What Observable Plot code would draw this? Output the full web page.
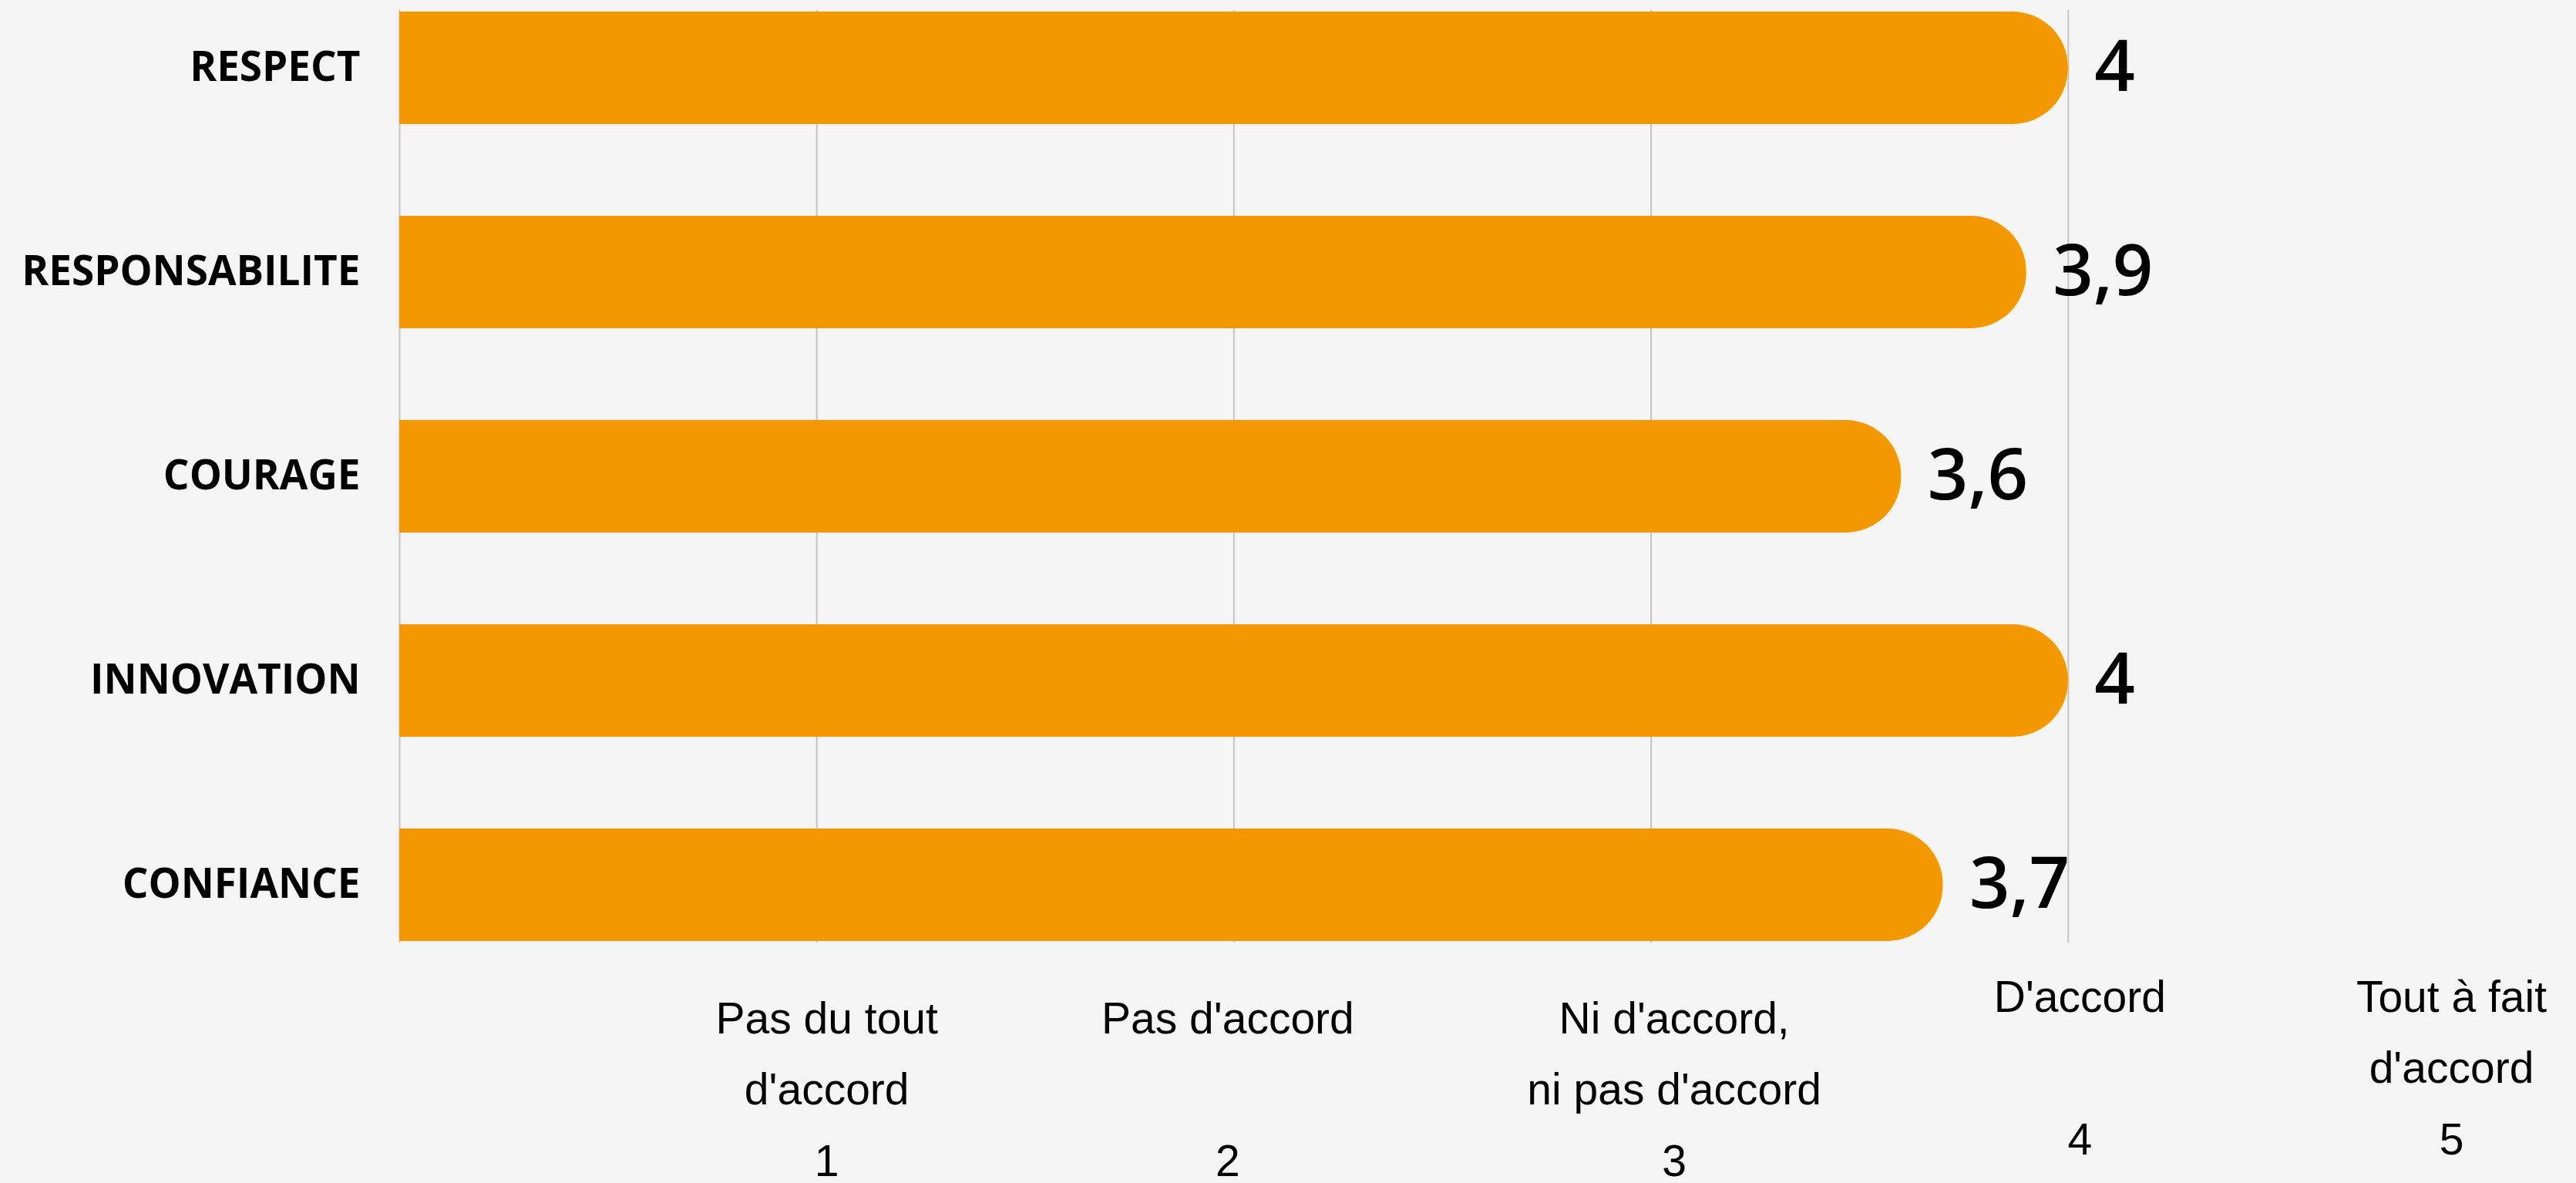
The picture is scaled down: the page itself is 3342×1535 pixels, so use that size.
<!DOCTYPE html>
<html>
<head>
<meta charset="utf-8">
<script src="https://cdn.jsdelivr.net/npm/d3@7"></script>
<script src="https://cdn.jsdelivr.net/npm/@observablehq/plot@0.6"></script>
<style>
  html, body { margin: 0; padding: 0; background: #f5f5f5; }
  #chart svg { display: block; }
  [aria-label="y-axis tick label"] text { font-weight: bold; }
</style>
</head>
<body>
<div id="chart"></div>
<script>
const categories = ["RESPECT", "RESPONSABILITE", "COURAGE", "INNOVATION", "CONFIANCE"];
const values = [4, 3.9, 3.6, 4, 3.7];
const scaleTicks = [1, 2, 3, 4, 5];
const scaleLabels = [
  "Pas du tout\nd'accord\n1",
  "Pas d'accord\n\n2",
  "Ni d'accord,\nni pas d'accord\n3",
  "D'accord\n\n4",
  "Tout à fait\nd'accord\n5"
];
const gridTicks = [0, 1, 2, 3, 4];

const data = categories.map((c, i) => ({cat: c, value: values[i]}));
const scale = scaleTicks.map((t, i) => ({t, label: scaleLabels[i], i}));

// style: per-label nudges of the bottom scale labels (pixels)
const labelDx = [13, -8, 30, 15, -44];
const labelDy = [52, 52, 52, 24, 24];

const orange = "#f39800";
const grid = "#c4c4c4";

const chart = Plot.plot({
  width: 3342,
  height: 1535,
  marginTop: 13,
  marginBottom: 312,
  marginLeft: 518,
  marginRight: 118,
  style: {background: "#f5f5f5", fontFamily: "'Liberation Sans', Arial, sans-serif", overflow: "visible"},
  x: {domain: [0, 5], axis: null},
  y: {domain: categories, paddingInner: 0.45, paddingOuter: 0, axis: null},
  marks: [
    Plot.ruleX(gridTicks, {x: d => d, stroke: grid, strokeWidth: 2}),
    Plot.barX(data, {y: "cat", x1: 0, x2: "value", fill: orange, rx: 72}),
    Plot.barX(data, {y: "cat", x1: 0, x2: d => d.value / 2, fill: orange}),
    Plot.axisY({
      label: null,
      tickSize: 0, tickPadding: 51, fontSize: 53, fontWeight: "bold",
      fontFamily: "'Open Sans', sans-serif",
      fill: "#000"
    }),
    Plot.text(data, {
      y: "cat", x: "value", text: d => d.value.toLocaleString("fr-FR"),
      textAnchor: "start", dx: 34, fontSize: 92, fontWeight: 600,
      fontFamily: "'Open Sans', sans-serif", fill: "#000"
    }),
    ...scale.map(s => Plot.text([s], {
      x: "t", text: "label", frameAnchor: "bottom", lineAnchor: "top",
      dy: labelDy[s.i], dx: labelDx[s.i], lineHeight: 1.62, fontSize: 57,
      fill: "#000", textAnchor: "middle"
    }))
  ]
});
document.getElementById("chart").appendChild(chart);
</script>
</body>
</html>
